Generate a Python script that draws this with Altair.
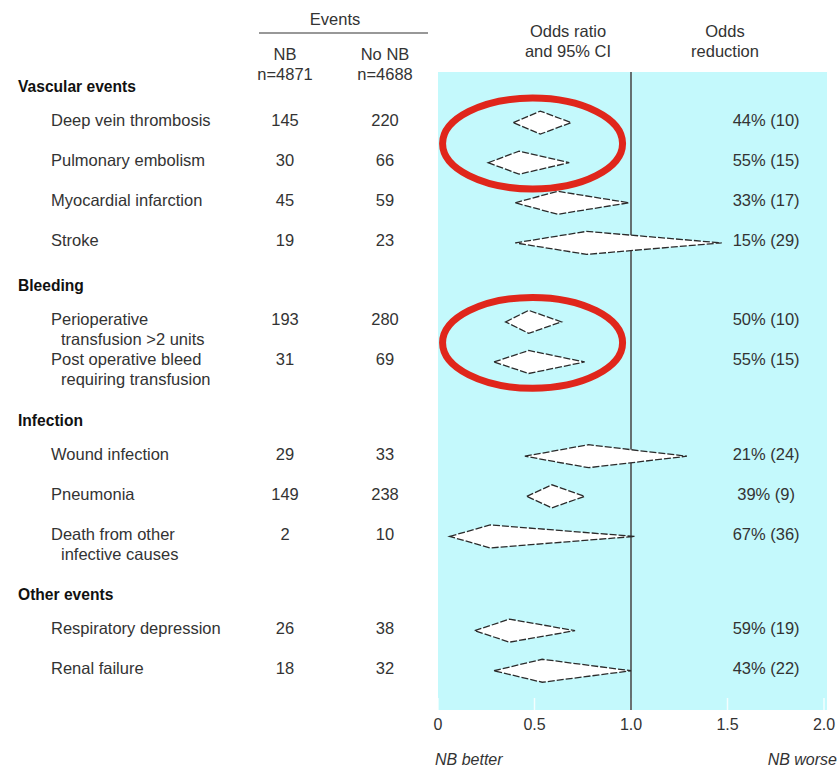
import altair as alt
import pandas as pd

# ---------------- data ----------------
groups = ["Vascular events", "Bleeding", "Infection", "Other events"]
group_index = [0, 0, 0, 0, 1, 1, 2, 2, 2, 3, 3]
outcomes = [
    "Deep vein thrombosis",
    "Pulmonary embolism",
    "Myocardial infarction",
    "Stroke",
    "Perioperative\ntransfusion >2 units",
    "Post operative bleed\nrequiring transfusion",
    "Wound infection",
    "Pneumonia",
    "Death from other\ninfective causes",
    "Respiratory depression",
    "Renal failure",
]
nb_events = [145, 30, 45, 19, 193, 31, 29, 149, 2, 26, 18]
no_nb_events = [220, 66, 59, 23, 280, 69, 33, 238, 10, 38, 32]
odds_ratio = [0.53, 0.42, 0.62, 0.77, 0.47, 0.47, 0.78, 0.59, 0.27, 0.37, 0.54]
ci_low = [0.39, 0.26, 0.40, 0.40, 0.35, 0.29, 0.45, 0.46, 0.06, 0.19, 0.29]
ci_high = [0.69, 0.68, 0.99, 1.47, 0.64, 0.76, 1.29, 0.76, 1.02, 0.71, 1.00]
reduction_pct = [44, 55, 33, 15, 50, 55, 21, 39, 67, 59, 43]
reduction_sd = [10, 15, 17, 29, 10, 15, 24, 9, 36, 19, 22]
tick_values = [0, 0.5, 1.0, 1.5, 2.0]
tick_labels = ["0", "0.5", "1.0", "1.5", "2.0"]
highlight_pairs = [(0, 1), (4, 5)]

# ---------------- layout (computed) ----------------
FONT = "Liberation Sans, Arial, sans-serif"
FS = 16.5
CYAN = "#c4f9fc"
TXT = "#333333"
W, H = 386, 638          # plot area (cyan panel)
PAD_L, PAD_T = 438, 72
ROW = 40.1               # pixels per row unit
TOP_OFF = 15             # first header below panel top (px)

group_pos, item_pos = [], []
u = 0.0
for gi, g in enumerate(groups):
    group_pos.append(u)
    u += 0.85
    idx = [i for i in range(len(outcomes)) if group_index[i] == gi]
    for i in idx:
        item_pos.append(u)
        u += 1.0
    last = u - 1.0
    u = last + 1.12 + (0.38 if "\n" in outcomes[idx[-1]] else 0.0)

rows = pd.DataFrame({
    "line1": [o.split("\n")[0] for o in outcomes],
    "line2": [o.split("\n")[1] if "\n" in o else "" for o in outcomes],
    "u": item_pos,
    "nb": [str(v) for v in nb_events],
    "nonb": [str(v) for v in no_nb_events],
    "red": [f"{p}% ({s})" for p, s in zip(reduction_pct, reduction_sd)],
    "redx": [1.7] * len(outcomes),
})
heads = pd.DataFrame({"g": groups, "u": group_pos})

HALF = 11.5 / ROW
dia = []
for i, o in enumerate(outcomes):
    c = item_pos[i] + 1.5 / ROW
    dia.append({"id": i, "x": ci_low[i], "yt": c, "yb": c})
    dia.append({"id": i, "x": odds_ratio[i], "yt": c - HALF, "yb": c + HALF})
    dia.append({"id": i, "x": ci_high[i], "yt": c, "yb": c})
dia = pd.DataFrame(dia)

ell = pd.DataFrame({
    "x": [0.49 for _ in highlight_pairs],
    "u": [(item_pos[a] + item_pos[b]) / 2 + 0.06 for a, b in highlight_pairs],
})
ticks = pd.DataFrame({"v": tick_values, "lab": tick_labels})

xs = alt.Scale(domain=[0, 2], nice=False, zero=False)
ys = alt.Scale(domain=[-TOP_OFF / ROW, (H - TOP_OFF) / ROW], reverse=True, nice=False, zero=False)
X = lambda f: alt.X(f, scale=xs, axis=None)
Y = lambda f: alt.Y(f, scale=ys, axis=None)

one = pd.DataFrame({"a": [0]})

bg = alt.Chart(one).mark_rect(color=CYAN).encode(
    x=alt.value(0), x2=alt.value(W + 3), y=alt.value(0), y2=alt.value(H))

tickmarks = alt.Chart(ticks).mark_rule(color="white", strokeWidth=1.5, opacity=0.8).encode(
    x=X("v:Q"), y=alt.value(H - 12), y2=alt.value(H))

ref = alt.Chart(pd.DataFrame({"v": [1.0]})).mark_rule(color="#4d4d4d", strokeWidth=1.6).encode(
    x=X("v:Q"), y=alt.value(0), y2=alt.value(H))

diamonds = alt.Chart(dia).mark_area(
    fill="white", stroke="#2b2b2b", strokeWidth=1.3, strokeDash=[7, 2], opacity=1
).encode(x=X("x:Q"), y=Y("yt:Q"), y2="yb:Q", detail="id:N")

ellipses = alt.Chart(ell).mark_point(
    shape="M -1 0 A 1 0.505 0 1 1 1 0 A 1 0.505 0 1 1 -1 0 Z",
    size=32400, filled=False, stroke="#e0261b", strokeWidth=7, opacity=1
).encode(x=X("x:Q"), y=Y("u:Q"))

def txt(data, **kw):
    base = dict(font=FONT, fontSize=FS, color=TXT, baseline="middle")
    base.update(kw)
    return alt.Chart(data).mark_text(**base)

head_txt = txt(heads, align="left", fontWeight="bold", fontSize=15.6, color="#111111").encode(
    x=alt.value(18 - PAD_L), y=Y("u:Q"), text="g:N")
line1 = txt(rows, align="left").encode(x=alt.value(51 - PAD_L), y=Y("u:Q"), text="line1:N")
line2 = txt(rows, align="left", dy=20).encode(x=alt.value(61 - PAD_L), y=Y("u:Q"), text="line2:N")
nbcol = txt(rows, align="center").encode(x=alt.value(285 - PAD_L), y=Y("u:Q"), text="nb:N")
nonbcol = txt(rows, align="center").encode(x=alt.value(385 - PAD_L), y=Y("u:Q"), text="nonb:N")
redcol = txt(rows, align="center").encode(x=X("redx:Q"), y=Y("u:Q"), text="red:N")

ticklab = txt(ticks, align="center", fontSize=16).encode(
    x=X("v:Q"), y=alt.value(725 - PAD_T), text="lab:N")

hdr = pd.DataFrame({
    "t": ["Events", "NB", "n=4871", "No NB", "n=4688",
          "Odds ratio", "and 95% CI", "Odds", "reduction"],
    "px": [335, 285, 285, 385, 385, 568, 568, 725, 725],
    "py": [20, 55, 75, 55, 75, 32, 52, 32, 52],
})
hdr["x"] = hdr["px"] - PAD_L
hdr["y"] = hdr["py"] - PAD_T
header_text = txt(hdr, align="center").encode(
    x=alt.X("x:Q", scale=None, axis=None), y=alt.Y("y:Q", scale=None, axis=None), text="t:N")
events_rule = alt.Chart(one).mark_rule(color=TXT, strokeWidth=1.2).encode(
    x=alt.value(259 - PAD_L), x2=alt.value(428 - PAD_L), y=alt.value(33 - PAD_T))

better = txt(pd.DataFrame({"t": ["NB better"]}), align="left", fontStyle="italic", fontSize=16).encode(
    x=alt.value(435 - PAD_L), y=alt.value(760 - PAD_T), text="t:N")
worse = txt(pd.DataFrame({"t": ["NB worse"]}), align="right", fontStyle="italic", fontSize=16).encode(
    x=alt.value(837 - PAD_L), y=alt.value(760 - PAD_T), text="t:N")

chart = alt.layer(
    bg, tickmarks, ref, diamonds, ellipses,
    head_txt, line1, line2, nbcol, nonbcol, redcol, ticklab,
    header_text, events_rule, better, worse,
).properties(
    width=W, height=H,
    autosize=alt.AutoSizeParams(type="none"),
    padding={"left": PAD_L, "top": PAD_T, "right": 840 - PAD_L - W, "bottom": 770 - PAD_T - H},
    background="white",
).configure_view(stroke=None)

chart.save("out.html", embed_options={"renderer": "svg", "actions": False})
